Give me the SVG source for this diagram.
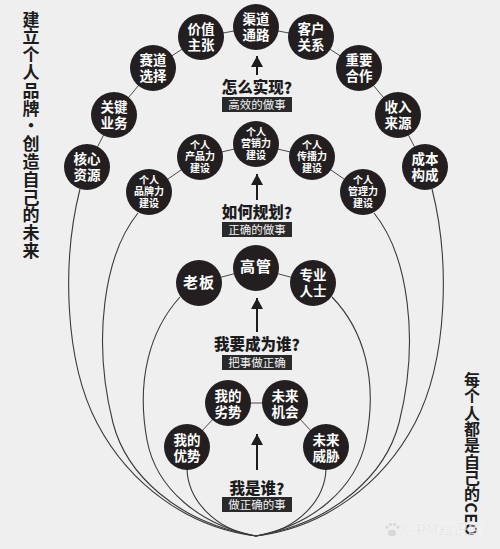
<svg xmlns="http://www.w3.org/2000/svg" width="500" height="549" viewBox="0 0 500 549">
<defs>
<style>
.bg{fill:#efefef}
.link{stroke:#4a4a4a;stroke-width:1;fill:none}
.curve{stroke:#3a3a3a;stroke-width:1.1;fill:none}
.node circle{fill:#231f20}
.node text{fill:#ffffff;font-family:"Liberation Sans","Noto Sans CJK SC",sans-serif;text-anchor:middle;dominant-baseline:central;font-weight:bold}
.t14{font-size:13.5px}
.t10{font-size:10px}
.t15{font-size:15px}
.q{font-family:"Liberation Sans","Noto Sans CJK SC",sans-serif;font-size:15.5px;font-weight:900;fill:#1c1c1c;text-anchor:middle;dominant-baseline:central}
.qm{font-family:"Noto Sans CJK SC",sans-serif}
.box{fill:#2a2a2a}
.boxt{font-family:"Liberation Sans","Noto Sans CJK SC",sans-serif;font-size:11.5px;fill:#f2f2f2;text-anchor:middle;dominant-baseline:central}
.arrow{stroke:#1c1c1c;stroke-width:2;fill:none}
.side{font-family:"Noto Sans CJK SC","Noto Sans",sans-serif;font-weight:bold;fill:#1c1c1c}
</style>
<marker id="ah" markerUnits="userSpaceOnUse" markerWidth="12" markerHeight="12" refX="10" refY="5.5" orient="auto" viewBox="0 0 10 11">
<path d="M0,0 L10,5.5 L0,11 Z" fill="#1c1c1c"/>
</marker>
</defs>
<rect class="bg" x="0" y="0" width="500" height="549"/>

<g id="connectors">
<polyline class="link" points="87,167 114,115 153,68 201,37 256,27 311,37 359,68 398,115 425,167"/>
<polyline class="link" points="149,192 200,157 256,144 312,157 363,192"/>
<polyline class="link" points="199,283 256,268 313,283"/>
<polyline class="link" points="187,447 228,403 285,403 326,447"/>
<path class="curve" d="M80,189 C62,260 64,360 97,423 C130,486 190,528 256,536"/>
<path class="curve" d="M432,189 C450,260 448,360 415,423 C382,486 322,528 256,536"/>
<path class="curve" d="M138,213 C104,255 92,340 113,423 C126,473 175,522 256,536"/>
<path class="curve" d="M374,213 C408,255 420,340 399,423 C386,473 337,522 256,536"/>
<path class="curve" d="M180,297 C150,330 136,380 147,440 C156,489 200,525 256,536"/>
<path class="curve" d="M332,297 C364,330 378,380 366,440 C356,489 312,525 256,536"/>
<path class="curve" d="M187,469 C188,500 215,530 256,536"/>
<path class="curve" d="M326,469 C325,500 298,530 256,536"/>
<line class="arrow" x1="257" y1="75" x2="257" y2="56" marker-end="url(#ah)"/>
<line class="arrow" x1="257" y1="200" x2="257" y2="174" marker-end="url(#ah)"/>
<line class="arrow" x1="257" y1="332" x2="257" y2="298" marker-end="url(#ah)"/>
<line class="arrow" x1="257" y1="470" x2="257" y2="434" marker-end="url(#ah)"/>
</g>

<g id="n-hexin" class="node"><circle cx="87" cy="167" r="23"/><text class="t14"><tspan x="87" y="159">核心</tspan><tspan x="87" y="175">资源</tspan></text></g>
<g id="n-guanjian" class="node"><circle cx="114" cy="115" r="23"/><text class="t14"><tspan x="114" y="107">关键</tspan><tspan x="114" y="123">业务</tspan></text></g>
<g id="n-saidao" class="node"><circle cx="153" cy="68" r="23"/><text class="t14"><tspan x="153" y="60">赛道</tspan><tspan x="153" y="76">选择</tspan></text></g>
<g id="n-jiazhi" class="node"><circle cx="201" cy="37" r="23"/><text class="t14"><tspan x="201" y="29">价值</tspan><tspan x="201" y="45">主张</tspan></text></g>
<g id="n-qudao" class="node"><circle cx="256" cy="27" r="23"/><text class="t14"><tspan x="256" y="19">渠道</tspan><tspan x="256" y="35">通路</tspan></text></g>
<g id="n-kehu" class="node"><circle cx="311" cy="37" r="23"/><text class="t14"><tspan x="311" y="29">客户</tspan><tspan x="311" y="45">关系</tspan></text></g>
<g id="n-hezuo" class="node"><circle cx="359" cy="68" r="23"/><text class="t14"><tspan x="359" y="60">重要</tspan><tspan x="359" y="76">合作</tspan></text></g>
<g id="n-shouru" class="node"><circle cx="398" cy="115" r="23"/><text class="t14"><tspan x="398" y="107">收入</tspan><tspan x="398" y="123">来源</tspan></text></g>
<g id="n-chengben" class="node"><circle cx="425" cy="167" r="23"/><text class="t14"><tspan x="425" y="159">成本</tspan><tspan x="425" y="175">构成</tspan></text></g>

<g id="n-pinpai" class="node"><circle cx="149" cy="192" r="23"/><text class="t10"><tspan x="149" y="180">个人</tspan><tspan x="149" y="191.3">品牌力</tspan><tspan x="149" y="202.6">建设</tspan></text></g>
<g id="n-chanpin" class="node"><circle cx="200" cy="157" r="23"/><text class="t10"><tspan x="200" y="145">个人</tspan><tspan x="200" y="156.3">产品力</tspan><tspan x="200" y="167.6">建设</tspan></text></g>
<g id="n-yingxiao" class="node"><circle cx="256" cy="144" r="23"/><text class="t10"><tspan x="256" y="132">个人</tspan><tspan x="256" y="143.3">营销力</tspan><tspan x="256" y="154.6">建设</tspan></text></g>
<g id="n-chuanbo" class="node"><circle cx="312" cy="157" r="23"/><text class="t10"><tspan x="312" y="145">个人</tspan><tspan x="312" y="156.3">传播力</tspan><tspan x="312" y="167.6">建设</tspan></text></g>
<g id="n-guanli" class="node"><circle cx="363" cy="192" r="23"/><text class="t10"><tspan x="363" y="180">个人</tspan><tspan x="363" y="191.3">管理力</tspan><tspan x="363" y="202.6">建设</tspan></text></g>

<g id="n-laoban" class="node"><circle cx="199" cy="283" r="23"/><text class="t15" x="199" y="282" letter-spacing="1">老板</text></g>
<g id="n-gaoguan" class="node"><circle cx="256" cy="268" r="23"/><text class="t15" x="256" y="266" letter-spacing="1">高管</text></g>
<g id="n-zhuanye" class="node"><circle cx="313" cy="283" r="23"/><text class="t14"><tspan x="313" y="275">专业</tspan><tspan x="313" y="291">人士</tspan></text></g>

<g id="n-youshi" class="node"><circle cx="187" cy="447" r="23"/><text class="t14"><tspan x="187" y="440">我的</tspan><tspan x="187" y="456">优势</tspan></text></g>
<g id="n-lieshi" class="node"><circle cx="228" cy="403" r="23"/><text class="t14"><tspan x="228" y="396">我的</tspan><tspan x="228" y="412">劣势</tspan></text></g>
<g id="n-jihui" class="node"><circle cx="285" cy="403" r="23"/><text class="t14"><tspan x="285" y="396">未来</tspan><tspan x="285" y="412">机会</tspan></text></g>
<g id="n-weixie" class="node"><circle cx="326" cy="447" r="23"/><text class="t14"><tspan x="326" y="440">未来</tspan><tspan x="326" y="456">威胁</tspan></text></g>

<g id="label-1">
<text class="q" x="257" y="87">怎么实现<tspan class="qm">?</tspan></text>
<rect class="box" x="222" y="97" width="70" height="15"/>
<text class="boxt" x="257" y="104.5">高效的做事</text>
</g>
<g id="label-2">
<text class="q" x="257" y="212">如何规划<tspan class="qm">?</tspan></text>
<rect class="box" x="222" y="222" width="70" height="15"/>
<text class="boxt" x="257" y="229.5">正确的做事</text>
</g>
<g id="label-3">
<text class="q" x="257" y="344">我要成为谁<tspan class="qm">?</tspan></text>
<rect class="box" x="222" y="355" width="70" height="15"/>
<text class="boxt" x="257" y="362.5">把事做正确</text>
</g>
<g id="label-4">
<text class="q" x="257" y="488">我是谁<tspan class="qm">?</tspan></text>
<rect class="box" x="222" y="497" width="70" height="15"/>
<text class="boxt" x="257" y="504.5">做正确的事</text>
</g>

<text class="side" font-size="17" text-anchor="middle" dominant-baseline="central" x="31 31 31 31 31 31 31 31 31 31 31 31 31 31" y="18 35.8 53.6 71.4 89.2 107 124.8 142.6 160.4 178.2 196 213.8 231.6 249.4">建立个人品牌·创造自己的未来</text>
<text class="side" font-size="16" x="472" y="372" style="writing-mode:vertical-rl" letter-spacing="0.3">每个人都是自己的CEO</text>

<g id="watermark" fill="#d6d6d6" opacity="0.9">
<ellipse cx="392" cy="533" rx="4" ry="3.2"/>
<circle cx="387" cy="527" r="1.6"/><circle cx="390.5" cy="524.5" r="1.6"/><circle cx="394.5" cy="524.5" r="1.6"/><circle cx="398" cy="527" r="1.6"/>
<text x="402" y="535" font-family="Noto Sans CJK SC, sans-serif" font-size="15" stroke="#ffffff" stroke-width="0.4">@PM知识库</text>
</g>
</svg>
